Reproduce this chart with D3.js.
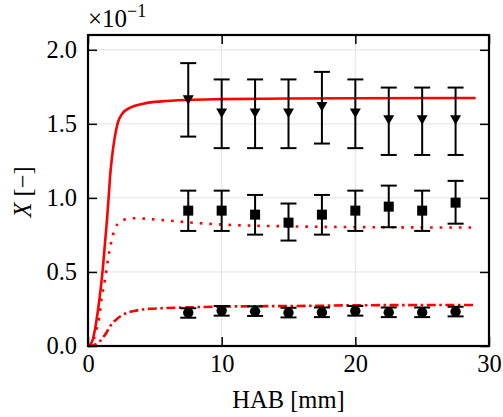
<!DOCTYPE html>
<html><head><meta charset="utf-8">
<script src="https://cdn.jsdelivr.net/npm/d3@7"></script>
<style>body{margin:0;background:#fff}svg{display:block}text{font-family:"Liberation Serif",serif;fill:#000}</style>
</head><body>
<svg id="c" width="503" height="417"></svg>
<script>
const hab = [7.5, 10, 12.5, 15, 17.5, 20, 22.5, 25, 27.5];
const triVal = [1.662, 1.574, 1.574, 1.574, 1.617, 1.574, 1.527, 1.527, 1.527];
const triLo  = [1.414, 1.336, 1.336, 1.336, 1.367, 1.336, 1.290, 1.290, 1.290];
const triHi  = [1.910, 1.800, 1.800, 1.800, 1.851, 1.800, 1.745, 1.745, 1.745];
const sqVal = [0.914, 0.914, 0.887, 0.833, 0.887, 0.914, 0.941, 0.914, 0.968];
const sqLo  = [0.777, 0.777, 0.752, 0.712, 0.752, 0.777, 0.802, 0.777, 0.826];
const sqHi  = [1.049, 1.049, 1.020, 0.962, 1.020, 1.049, 1.083, 1.049, 1.115];
const ciVal = [0.225, 0.239, 0.234, 0.225, 0.227, 0.236, 0.227, 0.227, 0.232];
const ciLo  = [0.191, 0.205, 0.203, 0.193, 0.195, 0.205, 0.195, 0.195, 0.200];
const ciHi  = [0.255, 0.270, 0.268, 0.258, 0.260, 0.270, 0.260, 0.260, 0.265];

const solidX = [0,0.1,0.35,0.6,0.85,1.1,1.27,1.42,1.55,1.65,1.8,1.97,2.22,2.59,3.09,4.34,5.5,7.5,10,15,20,29];
const solidY = [0,0.003,0.041,0.153,0.311,0.514,0.694,0.851,1.009,1.144,1.279,1.392,1.505,1.572,1.606,1.64,1.652,1.662,1.667,1.671,1.673,1.675];
const dotX = [0,0.3,0.6,0.85,1.02,1.27,1.47,1.72,1.9,2.22,2.84,3.59,4.5,6,7.5,10,15,20,29];
const dotY = [0,0.02,0.1,0.198,0.322,0.446,0.57,0.694,0.761,0.824,0.856,0.863,0.858,0.847,0.835,0.82,0.808,0.803,0.80];
const ddX = [0,0.4,0.85,1.35,1.72,2.22,2.84,3.59,4.2,5.5,7.5,10,15,17.5,20,29];
const ddY = [0,0.005,0.029,0.086,0.142,0.187,0.221,0.239,0.248,0.255,0.261,0.266,0.27,0.272,0.275,0.277];

const xTicks = [0, 10, 20, 30];
const yTicks = [0.0, 0.5, 1.0, 1.5, 2.0];

const L = 88, R = 489, T = 35, B = 346;
const FS = 24.5;
const svg = d3.select("#c");
const x = d3.scaleLinear().domain([0, 30]).range([L, R]);
const y = d3.scaleLinear().domain([0, 2.1]).range([B, T]);

// grid
const g = svg.append("g");
g.selectAll(".gx").data(xTicks.slice(1, -1)).enter().append("line")
  .attr("x1", d => x(d)).attr("x2", d => x(d)).attr("y1", T).attr("y2", B)
  .attr("stroke", "#e2e2e2").attr("stroke-width", 1);
g.selectAll(".gy").data(yTicks.slice(1)).enter().append("line")
  .attr("x1", L).attr("x2", R).attr("y1", d => y(d)).attr("y2", d => y(d))
  .attr("stroke", "#e2e2e2").attr("stroke-width", 1);

// axes via d3 axis (inward ticks)
const tl = 9;
svg.append("g").attr("transform", `translate(0,${B})`)
  .call(d3.axisBottom(x).tickValues(xTicks).tickSize(-tl).tickPadding(9).tickFormat(d3.format("d")))
  .call(a => { a.select(".domain").remove(); a.selectAll("text").attr("font-size", FS).attr("font-family", "Liberation Serif"); a.selectAll("line").attr("stroke-width", 1.5); });
svg.append("g").attr("transform", `translate(${L},0)`)
  .call(d3.axisLeft(y).tickValues(yTicks).tickSize(-tl).tickPadding(11).tickFormat(d3.format(".1f")))
  .call(a => { a.select(".domain").remove(); a.selectAll("text").attr("font-size", FS).attr("font-family", "Liberation Serif"); a.selectAll("line").attr("stroke-width", 1.5); });
svg.append("g").attr("transform", `translate(0,${T})`)
  .call(d3.axisTop(x).tickValues(xTicks).tickSize(-tl).tickFormat(""))
  .call(a => { a.select(".domain").remove(); a.selectAll("line").attr("stroke-width", 1.5); });
svg.append("g").attr("transform", `translate(${R},0)`)
  .call(d3.axisRight(y).tickValues(yTicks).tickSize(-tl).tickFormat(""))
  .call(a => { a.select(".domain").remove(); a.selectAll("line").attr("stroke-width", 1.5); });

// curves
const line = d3.line().x(d => x(d[0])).y(d => y(d[1])).curve(d3.curveMonotoneX);
const zip = (a, b) => a.map((v, i) => [v, b[i]]);
svg.append("path").attr("d", line(zip(solidX, solidY))).attr("fill", "none").attr("stroke", "#ff0000").attr("stroke-width", 2.6);
svg.append("path").attr("d", line(zip(dotX, dotY))).attr("fill", "none").attr("stroke", "#ff0000").attr("stroke-width", 2.6).attr("stroke-dasharray", "2.6,7");
svg.append("path").attr("d", line(zip(ddX, ddY))).attr("fill", "none").attr("stroke", "#ff0000").attr("stroke-width", 2.6).attr("stroke-dasharray", "9,3.5,2.6,3.5");

// error bars + markers
function series(vals, lo, hi, shape) {
  const gg = svg.append("g");
  hab.forEach((h, i) => {
    const cx = x(h);
    gg.append("line").attr("x1", cx).attr("x2", cx).attr("y1", y(lo[i])).attr("y2", y(hi[i])).attr("stroke", "#000").attr("stroke-width", 2);
    [lo[i], hi[i]].forEach(v => gg.append("line").attr("x1", cx - 8).attr("x2", cx + 8).attr("y1", y(v)).attr("y2", y(v)).attr("stroke", "#000").attr("stroke-width", 2));
    const cy = y(vals[i]);
    if (shape === "sq") gg.append("rect").attr("x", cx - 5).attr("y", cy - 5).attr("width", 10).attr("height", 10).attr("fill", "#000");
    else if (shape === "ci") gg.append("circle").attr("cx", cx).attr("cy", cy).attr("r", 5.2).attr("fill", "#000");
    else gg.append("path").attr("d", `M${cx - 5.5},${cy - 4.5}L${cx + 5.5},${cy - 4.5}L${cx},${cy + 5}Z`).attr("fill", "#000");
  });
}
series(triVal, triLo, triHi, "tri");
series(sqVal, sqLo, sqHi, "sq");
series(ciVal, ciLo, ciHi, "ci");

// frame
svg.append("rect").attr("x", L).attr("y", T).attr("width", R - L).attr("height", B - T)
  .attr("fill", "none").attr("stroke", "#000").attr("stroke-width", 2.2);

// labels
svg.append("text").attr("x", x(15)).attr("y", 408).attr("text-anchor", "middle").attr("font-size", FS).text("HAB [mm]");
const yl = svg.append("text").attr("transform", "translate(31,192) rotate(-90)").attr("text-anchor", "middle").attr("font-size", FS);
yl.append("tspan").attr("font-style", "italic").text("X");
yl.append("tspan").text(" [\u2212]");
const ex = svg.append("text").attr("x", 88).attr("y", 27).attr("font-size", 25);
ex.append("tspan").text("\u00d710");
ex.append("tspan").attr("font-size", 18).attr("dy", -10).text("\u22121");
</script>
</body></html>
